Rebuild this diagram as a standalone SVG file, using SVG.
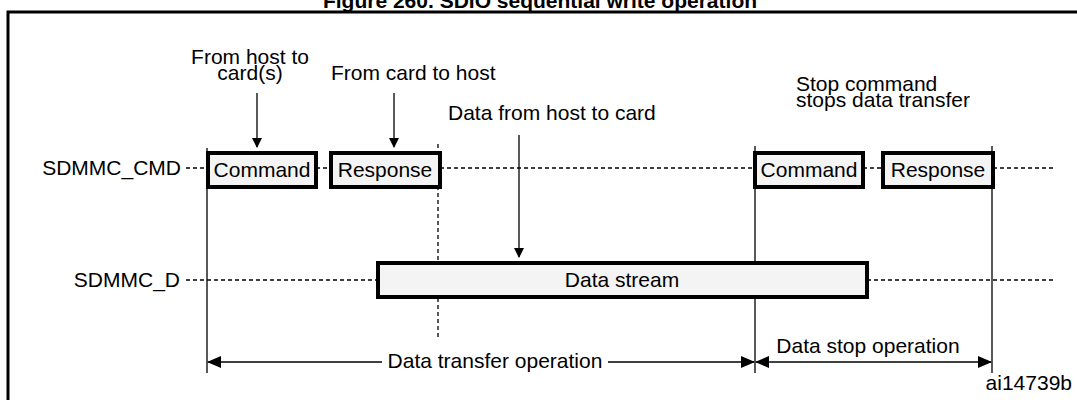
<svg xmlns="http://www.w3.org/2000/svg" width="1077" height="400" viewBox="0 0 1077 400">
<style>
text{font-family:"Liberation Sans",Arial,sans-serif;font-size:21px;fill:#000}
.box{fill:#f4f4f4;stroke:#000;stroke-width:4}
.dash{stroke:#000;stroke-width:1.3;stroke-dasharray:4,3;fill:none}
.ln{stroke:#000;stroke-width:1.3;fill:none}
</style>
<defs>
<marker id="ah" markerWidth="10" markerHeight="10" refX="9" refY="5" orient="auto" markerUnits="userSpaceOnUse"><path d="M0,0 L10,5 L0,10 z" fill="#000"/></marker>
<marker id="as" markerWidth="14" markerHeight="12" refX="13" refY="6" orient="auto" markerUnits="userSpaceOnUse"><path d="M0,0 L14,6 L0,12 z" fill="#000"/></marker>
</defs>
<rect width="1077" height="400" fill="#fff"/>
<text x="540" y="8" text-anchor="middle" font-weight="bold" font-size="22">Figure 260. SDIO sequential write operation</text>
<rect x="8" y="12" width="1080" height="400" fill="none" stroke="#000" stroke-width="3"/>
<g id="connectors">
<path class="dash" d="M186,168H208 M316,168H331 M440,168H755 M863,168H883 M993,168H1055"/>
<path class="dash" d="M186,280H378 M867,280H1055"/>
<path class="dash" d="M438,144V337"/>
<path class="ln" d="M207,148V373 M755,146V373 M992,146V373"/>
<path class="ln" d="M257,93V147" marker-end="url(#ah)"/>
<path class="ln" d="M394,93V147" marker-end="url(#ah)"/>
<path class="ln" d="M519,135V257" marker-end="url(#ah)"/>
<path class="ln" d="M382,362H208" marker-end="url(#as)"/>
<path class="ln" d="M608,362H754" marker-end="url(#as)"/>
<path class="ln" d="M770,362H756" marker-end="url(#as)"/>
<path class="ln" d="M770,362H991" marker-end="url(#as)"/>
</g>
<g id="cmd1"><rect class="box" x="208" y="153" width="108" height="34"/><text x="262" y="177" text-anchor="middle">Command</text></g>
<g id="resp1"><rect class="box" x="331" y="153" width="109" height="34"/><text x="385" y="177" text-anchor="middle">Response</text></g>
<g id="cmd2"><rect class="box" x="755" y="153" width="108" height="34"/><text x="809" y="177" text-anchor="middle">Command</text></g>
<g id="resp2"><rect class="box" x="883" y="153" width="110" height="34"/><text x="938" y="177" text-anchor="middle">Response</text></g>
<g id="data"><rect class="box" x="378" y="263" width="489" height="34"/><text x="622" y="287" text-anchor="middle">Data stream</text></g>
<g id="labels">
<text x="181" y="175" text-anchor="end">SDMMC_CMD</text>
<text x="180" y="287" text-anchor="end">SDMMC_D</text>
<text x="250" y="64" text-anchor="middle">From host to</text>
<text x="250" y="80" text-anchor="middle">card(s)</text>
<text x="331" y="80">From card to host</text>
<text x="448" y="120">Data from host to card</text>
<text x="796" y="91">Stop command</text>
<text x="796" y="107">stops data transfer</text>
<text x="495" y="368" text-anchor="middle">Data transfer operation</text>
<text x="868" y="353" text-anchor="middle">Data stop operation</text>
<text x="1072" y="390" text-anchor="end" font-size="15">ai14739b</text>
</g>
</svg>
